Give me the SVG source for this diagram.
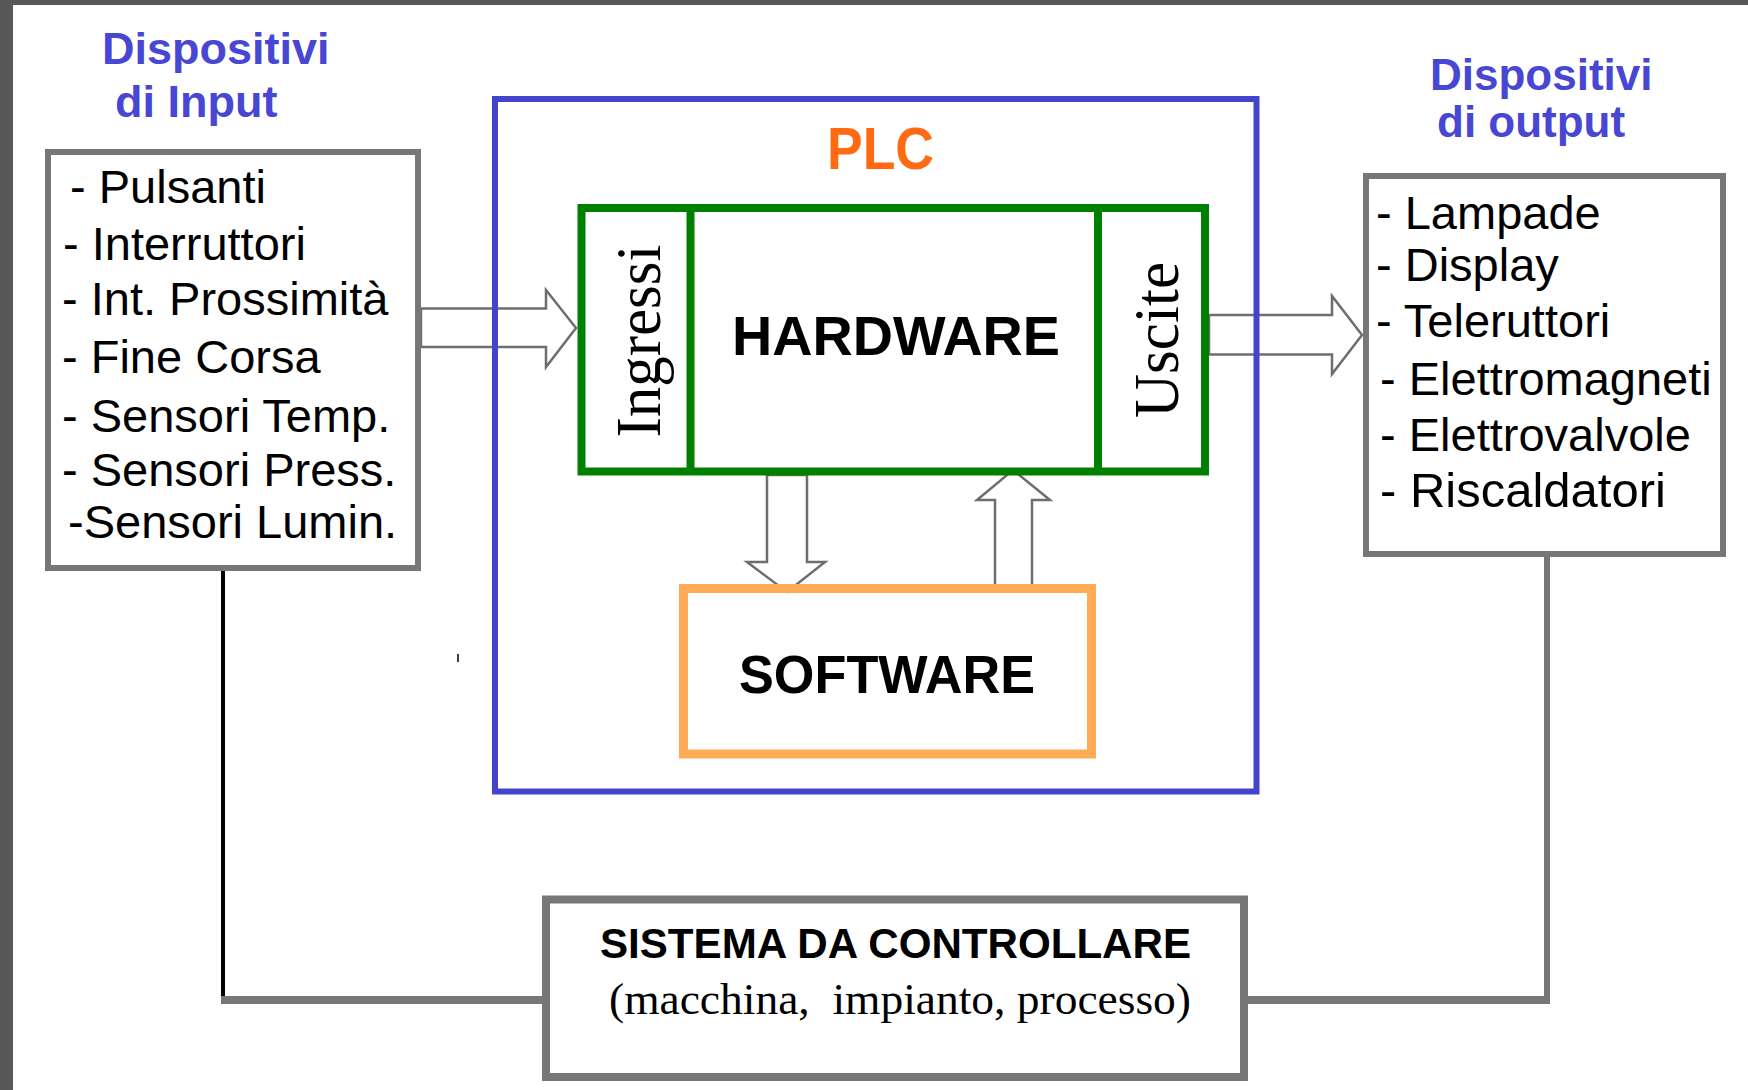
<svg xmlns="http://www.w3.org/2000/svg" width="1748" height="1090" viewBox="0 0 1748 1090">
<style>
.title{font-family:"Liberation Sans",Arial,sans-serif;font-weight:bold;font-size:45px;fill:#4747d3}
.item{font-family:"Liberation Sans",Arial,sans-serif;font-size:47px;fill:#000}
.big{font-size:49px}
.bold{font-family:"Liberation Sans",Arial,sans-serif;font-weight:bold;fill:#000}
.serif{font-family:"Liberation Serif","Times New Roman",serif;fill:#000}
.graybox{fill:#fff;stroke:#777;stroke-width:6}
.arrow{fill:#fff;stroke:#6e6e6e;stroke-width:2.5;stroke-linejoin:miter}
.wire{fill:none;stroke:#777;stroke-width:8}
</style>
<rect x="0" y="0" width="1748" height="1090" fill="#fff"/>
<rect x="0" y="0" width="13" height="1090" fill="#585858"/>
<rect x="0" y="0" width="1748" height="5" fill="#585858"/>

<g id="connectors">
  <polygon class="arrow" points="421,308.5 546,308.5 546,290 576,328 546,367 546,347 421,347"/>
  <polygon class="arrow" points="1209,315 1332,315 1332,296 1362,335 1332,374 1332,354.5 1209,354.5"/>
  <polygon class="arrow" points="767,475 807,475 807,562 825,562 787,592 747,562 767,562"/>
  <polygon class="arrow" points="1013,470 1050,500 1032,500 1032,588 995,588 995,500 977,500"/>
  <line x1="223" y1="569" x2="223" y2="1004" stroke="#000" stroke-width="4"/>
  <line x1="221" y1="1000" x2="546" y2="1000" class="wire"/>
  <line x1="1547" y1="554" x2="1547" y2="1004" stroke="#777" stroke-width="6"/>
  <line x1="1244" y1="1000" x2="1550" y2="1000" class="wire"/>
</g>

<g id="input-title">
  <text class="title" x="102" y="64">Dispositivi</text>
  <text class="title" x="115" y="117">di Input</text>
</g>

<g id="input-devices">
  <rect class="graybox" x="48" y="152" width="370" height="416"/>
  <text class="item" x="70" y="203">- Pulsanti</text>
  <text class="item" x="63" y="260">- Interruttori</text>
  <text class="item" x="62" y="315">- Int. Prossimità</text>
  <text class="item" x="62" y="373">- Fine Corsa</text>
  <text class="item" x="62" y="432">- Sensori Temp.</text>
  <text class="item" x="62" y="486">- Sensori Press.</text>
  <text class="item" x="68" y="538">-Sensori Lumin.</text>
</g>

<g id="plc">
  <rect x="495" y="99" width="761.5" height="692.5" fill="none" stroke="#4343cc" stroke-width="6"/>
  <text class="bold" x="880.5" y="169" font-size="59" style="fill:#ff6a12" text-anchor="middle" textLength="107" lengthAdjust="spacingAndGlyphs">PLC</text>
</g>

<g id="hardware">
  <rect x="581.5" y="208" width="623.5" height="263.5" fill="none" stroke="#008000" stroke-width="8"/>
  <line x1="690.5" y1="208" x2="690.5" y2="471.5" stroke="#008000" stroke-width="8"/>
  <line x1="1098" y1="208" x2="1098" y2="471.5" stroke="#008000" stroke-width="8"/>
  <text class="bold" x="896" y="355" font-size="56" text-anchor="middle" textLength="328" lengthAdjust="spacingAndGlyphs">HARDWARE</text>
  <text class="serif" font-size="64" text-anchor="middle" transform="translate(660,341) rotate(-90)" textLength="193" lengthAdjust="spacingAndGlyphs">Ingressi</text>
  <text class="serif" font-size="64" text-anchor="middle" transform="translate(1178,340) rotate(-90)" textLength="156" lengthAdjust="spacingAndGlyphs">Uscite</text>
</g>

<g id="software">
  <rect x="683.5" y="588.5" width="408" height="165.5" fill="none" stroke="#ffaa55" stroke-width="9"/>
  <text class="bold" x="887" y="693" font-size="53" text-anchor="middle" textLength="296" lengthAdjust="spacingAndGlyphs">SOFTWARE</text>
</g>

<g id="output-title">
  <text class="title" x="1430" y="90" style="font-size:44px">Dispositivi</text>
  <text class="title" x="1437" y="137" style="font-size:44px">di output</text>
</g>

<g id="output-devices">
  <rect class="graybox" x="1366" y="176" width="357" height="378"/>
  <text class="item" x="1376" y="229">- Lampade</text>
  <text class="item" x="1376" y="281">- Display</text>
  <text class="item" x="1376" y="337">- Teleruttori</text>
  <text class="item" x="1380" y="395">- Elettromagneti</text>
  <text class="item" x="1380" y="451">- Elettrovalvole</text>
  <text class="item big" x="1380" y="507">- Riscaldatori</text>
</g>

<g id="sistema">
  <rect x="546" y="899.5" width="698" height="177.5" fill="#fff" stroke="#777" stroke-width="8"/>
  <text class="bold" x="895.5" y="958" font-size="42" text-anchor="middle" textLength="591" lengthAdjust="spacingAndGlyphs">SISTEMA DA CONTROLLARE</text>
  <text class="serif" x="900" y="1014" font-size="45" text-anchor="middle" textLength="582" lengthAdjust="spacingAndGlyphs" xml:space="preserve">(macchina,  impianto, processo)</text>
</g>

<line x1="458" y1="654" x2="458" y2="662" stroke="#000" stroke-width="1.5"/>
</svg>
